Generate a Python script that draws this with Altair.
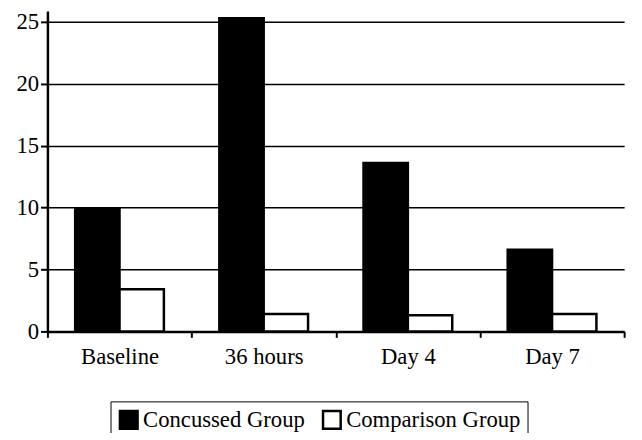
import altair as alt
import pandas as pd

categories = ["Baseline", "36 hours", "Day 4", "Day 7"]
groups = ["Concussed Group", "Comparison Group"]
concussed = [9.9, 25.3, 13.6, 6.6]
comparison = [3.4, 1.4, 1.3, 1.4]

rows = []
for c, a, b in zip(categories, concussed, comparison):
    rows.append({"time": c, "group": groups[0], "value": a})
    rows.append({"time": c, "group": groups[1], "value": b})
df = pd.DataFrame(rows)

FONT = "'Liberation Serif', 'Times New Roman', serif"
FS = 23

chart = alt.Chart(df).mark_bar(stroke="black", strokeWidth=2.5).encode(
    x=alt.X("time:N", sort=categories,
            scale=alt.Scale(paddingInner=0, paddingOuter=0),
            axis=alt.Axis(title=None, labelAngle=0, tickBand="extent",
                          domainColor="black", domainWidth=2.5,
                          tickColor="black", tickWidth=2, tickSize=6,
                          labelFont=FONT, labelFontSize=FS, labelColor="black",
                          labelPadding=9)),
    xOffset=alt.XOffset("group:N", sort=groups,
                        scale=alt.Scale(paddingInner=0, paddingOuter=0.625)),
    y=alt.Y("value:Q", scale=alt.Scale(domain=[0, 25.88], nice=False),
            axis=alt.Axis(title=None, values=[0, 5, 10, 15, 20, 25],
                          domainColor="black", domainWidth=2.5,
                          tickColor="black", tickWidth=2, tickSize=7,
                          grid=True, gridColor="black", gridWidth=1.5,
                          labelFont=FONT, labelFontSize=FS, labelColor="black",
                          labelPadding=2)),
    fill=alt.Fill("group:N", sort=groups,
                  scale=alt.Scale(domain=groups, range=["black", "white"]),
                  legend=alt.Legend(title=None, orient="none", legendX=64, legendY=396,
                                    direction="horizontal", strokeColor="black",
                                    padding=7, symbolType="square", symbolSize=320,
                                    symbolStrokeColor="black", symbolStrokeWidth=2.5,
                                    labelFont=FONT, labelFontSize=FS, labelColor="black",
                                    labelLimit=400, labelOffset=3, columnPadding=12)),
).properties(
    width=585, height=325,
    padding={"left": 40, "top": 0, "right": 10, "bottom": 100},
    autosize=alt.AutoSizeParams(type="none"),
).configure_view(stroke=None)

chart.save("out.html", embed_options={"renderer": "svg", "actions": False})
